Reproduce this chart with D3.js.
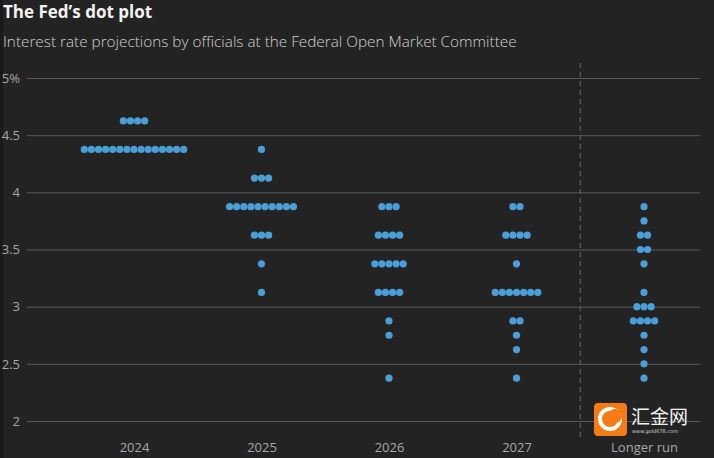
<!DOCTYPE html>
<html><head><meta charset="utf-8">
<script src="https://cdn.jsdelivr.net/npm/d3@7"></script>
<style>
html,body{margin:0;padding:0;background:#232323;}
svg{display:block;}
</style></head>
<body>
<svg id="chart" width="714" height="458"></svg>
<script>
const categories = ["2024", "2025", "2026", "2027", "Longer run"];
const rates2024 = [[4.625, 4], [4.375, 15]];
const rates2025 = [[4.375, 1], [4.125, 3], [3.875, 10], [3.625, 3], [3.375, 1], [3.125, 1]];
const rates2026 = [[3.875, 3], [3.625, 4], [3.375, 5], [3.125, 4], [2.875, 1], [2.75, 1], [2.375, 1]];
const rates2027 = [[3.875, 2], [3.625, 4], [3.375, 1], [3.125, 7], [2.875, 2], [2.75, 1], [2.625, 1], [2.375, 1]];
const ratesLonger = [[3.875, 1], [3.75, 1], [3.625, 2], [3.5, 2], [3.375, 1], [3.125, 1], [3.0, 3], [2.875, 4], [2.75, 1], [2.625, 1], [2.5, 1], [2.375, 1]];
const yTicks = [2, 2.5, 3, 3.5, 4, 4.5, 5];
const yTickLabels = ["2", "2.5", "3", "3.5", "4", "4.5", "5%"];

const series = [rates2024, rates2025, rates2026, rates2027, ratesLonger];

const svg = d3.select("#chart");
const W = 714, H = 458;
svg.append("rect").attr("width", W).attr("height", H).attr("fill", "#232323");
svg.append("rect").attr("width", 3).attr("height", H).attr("fill", "#1a1a1a");

const y = d3.scaleLinear().domain([2, 5]).range([421, 78]);
const x = d3.scalePoint().domain(categories).range([134, 644]);

// title
svg.append("text").attr("x", 3).attr("y", 18)
  .attr("font-family", "'Open Sans', sans-serif").attr("font-weight", 700)
  .attr("font-size", 17).attr("fill", "#f2f2f2").text("The Fed’s dot plot");
svg.append("text").attr("x", 3).attr("y", 47)
  .attr("font-family", "'Open Sans', sans-serif").attr("font-weight", 300)
  .attr("font-size", 15.3).attr("fill", "#d0d0d0")
  .text("Interest rate projections by officials at the Federal Open Market Committee");

// y axis gridlines via d3 axis
const yAxis = d3.axisLeft(y).tickValues(yTicks)
  .tickFormat((d, i) => yTickLabels[i]).tickSize(-673).tickPadding(7);
const gy = svg.append("g").attr("transform", "translate(27,0)").call(yAxis);
gy.select(".domain").remove();
gy.selectAll(".tick line").attr("stroke", "#5a5a5a").attr("stroke-width", 1);
gy.selectAll(".tick text").attr("fill", "#a8a8a8")
  .attr("font-family", "'Open Sans', sans-serif").attr("font-size", 13);

// x axis labels
const xAxis = d3.axisBottom(x).tickSize(0).tickPadding(0);
const gx = svg.append("g").attr("transform", "translate(0,443)").call(xAxis);
gx.select(".domain").remove();
gx.selectAll(".tick text").attr("fill", "#a8a8a8")
  .attr("font-family", "'Open Sans', sans-serif").attr("font-size", 13);

// dashed separator
const sepX = (x("2027") + x("Longer run")) / 2;
svg.append("line").attr("x1", sepX).attr("x2", sepX).attr("y1", 63).attr("y2", 437)
  .attr("stroke", "#6a6a6a").attr("stroke-dasharray", "5,4").attr("stroke-width", 1);

// dots
const step = 7.1, r = 3.6;
const dots = [];
series.forEach((rows, ci) => {
  rows.forEach(([rate, n]) => {
    for (let i = 0; i < n; i++) dots.push({cat: categories[ci], rate, off: i - (n - 1) / 2});
  });
});
svg.append("g").selectAll("circle").data(dots).join("circle")
  .attr("cx", d => x(d.cat) + d.off * step)
  .attr("cy", d => y(d.rate))
  .attr("r", r).attr("fill", "#4b9fd9");

// watermark
const wm = svg.append("g");
wm.append("rect").attr("x", 594).attr("y", 403).attr("width", 33).attr("height", 33).attr("rx", 4).attr("fill", "#f57c14");
wm.append("circle").attr("cx", 610).attr("cy", 419).attr("r", 10).attr("fill", "none").attr("stroke", "#fff").attr("stroke-width", 4);
wm.append("circle").attr("cx", 615).attr("cy", 416).attr("r", 7).attr("fill", "#f57c14");
wm.append("text").attr("x", 631).attr("y", 424).attr("font-family", "'Noto Sans CJK SC', sans-serif")
  .attr("font-size", 19).attr("fill", "#f0f0f0").text("汇金网");
wm.append("text").attr("x", 632).attr("y", 433).attr("font-family", "'DejaVu Sans', sans-serif")
  .attr("font-size", 5).attr("fill", "#d0d0d0").text("www.gold678.com");
</script>
</body></html>
